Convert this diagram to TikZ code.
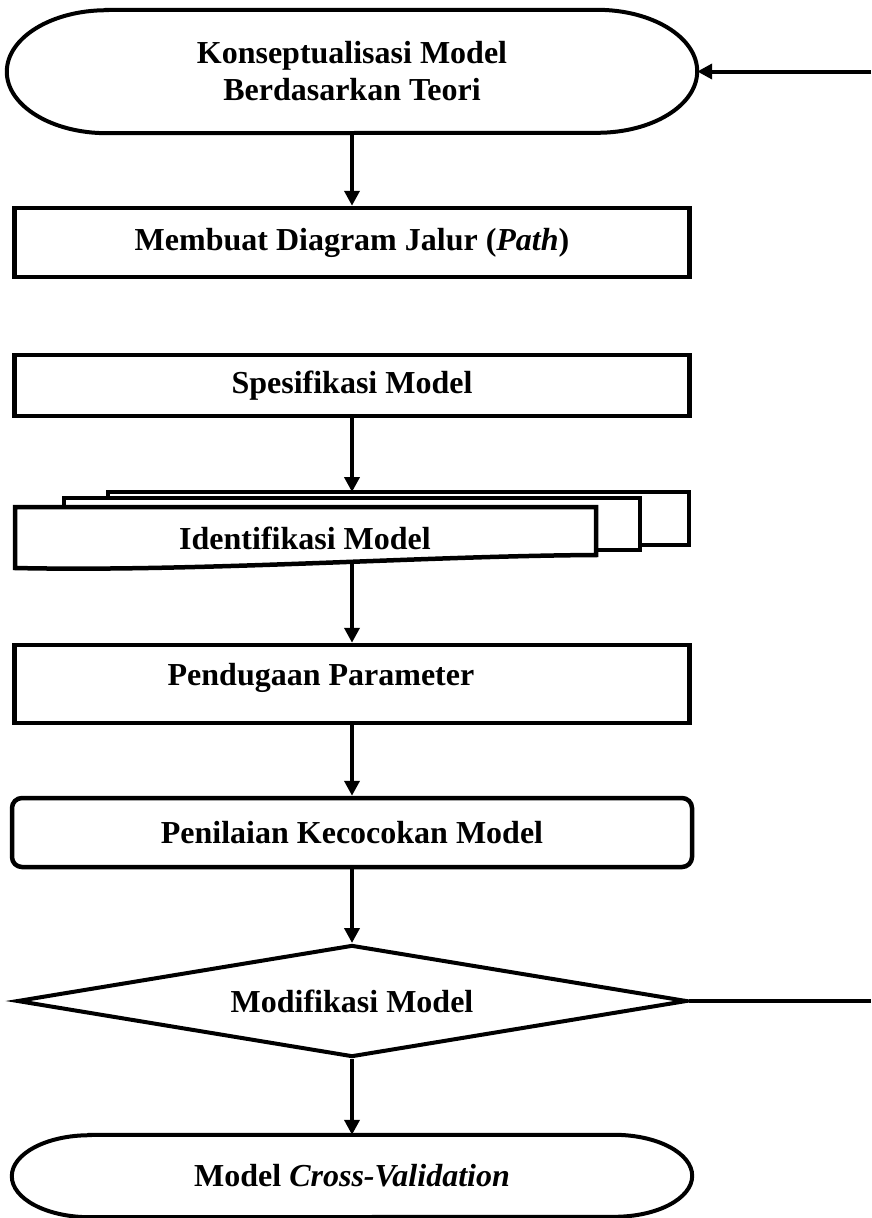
\documentclass[tikz,border=0pt]{standalone}
\usepackage{fontspec}
\setmainfont{Liberation Serif}
\usetikzlibrary{shapes.geometric,arrows.meta}

\begin{document}
\begin{tikzpicture}[x=1pt,y=-1pt,
  boxline/.style={line width=4.5pt},
  txt/.style={font=\fontsize{32}{37}\selectfont\bfseries, align=center},
  procbox/.style={draw, boxline, txt, inner sep=0pt, fill=white},
  termbox/.style={txt, inner sep=0pt},
  arr/.style={line width=4pt, -{Triangle[length=15pt,width=15pt]}}]
  \useasboundingbox (0,0) rectangle (871,1218);

  \node[termbox, minimum width=690pt, minimum height=123pt] (konsep) at (352,71.5) {Konseptualisasi Model\\Berdasarkan Teori};
  \draw[line width=4pt] ([xshift=100pt]konsep.north west) -- ([xshift=-100pt]konsep.north east) arc[start angle=90, end angle=-90, x radius=100pt, y radius=61.5pt] -- ([xshift=100pt]konsep.south west) arc[start angle=270, end angle=90, x radius=100pt, y radius=61.5pt] -- cycle;

  \node[procbox, minimum width=675pt, minimum height=69pt] (membuat) at (352,242.5) {Membuat Diagram Jalur (\textit{Path})};
  \node[procbox, minimum width=675pt, minimum height=61pt] (spes) at (352,385.5) {Spesifikasi Model};

  \filldraw[boxline, fill=white] (108,492) rectangle (689,545);
  \filldraw[boxline, fill=white] (64,498) rectangle (640,550);
  \filldraw[boxline, fill=white] (15,507) -- (596,507) -- (596,555) .. controls (420,556) and (200,572) .. (15,568) -- cycle;
  \node[txt] (ident) at (305,538) {Identifikasi Model};
  \coordinate (stacktop) at (352,492);
  \coordinate (stackbot) at (352,563);

  \node[procbox, minimum width=675pt, minimum height=78pt] (pend) at (352,684) {};
  \node[txt] (pendtxt) at (321,678) {Pendugaan Parameter};
  \node[procbox, rounded corners=10pt, minimum width=680pt, minimum height=69pt] (penil) at (352,832.5) {Penilaian Kecocokan Model};
  \node[procbox, diamond, aspect=6, line width=4pt, minimum width=670pt, minimum height=112pt] (modif) at (352,1001) {Modifikasi Model};

  \node[termbox, minimum width=680pt, minimum height=82pt] (cross) at (352,1176) {Model \textit{Cross-Validation}};
  \draw[line width=4pt] ([xshift=78pt]cross.north west) -- ([xshift=-78pt]cross.north east) arc[start angle=90, end angle=-90, x radius=78pt, y radius=41pt] -- ([xshift=78pt]cross.south west) arc[start angle=270, end angle=90, x radius=78pt, y radius=41pt] -- cycle;

  \coordinate (backin) at (871,71.5);
  \coordinate (backout) at (871,1001);
  \draw[arr] (backin) -- (konsep.east);
  \draw[arr] (konsep) -- (membuat);
  \draw[arr] (spes) -- (stacktop);
  \draw[arr] (stackbot) -- (pend);
  \draw[arr] (pend) -- (penil);
  \draw[arr] (penil) -- (modif);
  \draw[arr] (modif) -- (cross);
  \draw[line width=4pt] (modif.east) -- (backout);
\end{tikzpicture}
\end{document}
